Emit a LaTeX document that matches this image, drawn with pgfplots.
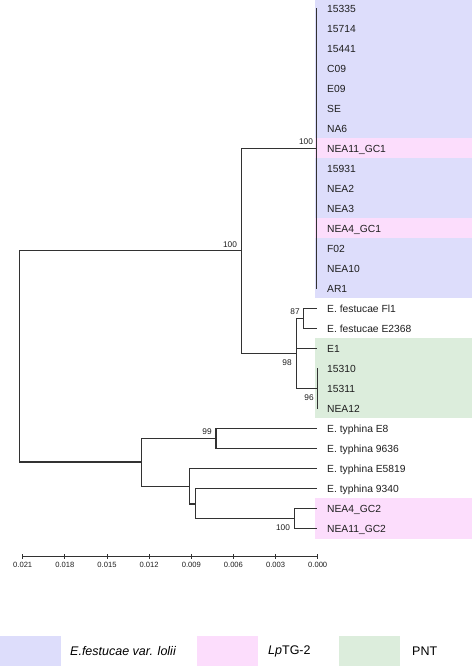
\documentclass[border=0pt]{standalone}
\usepackage{pgfplots}
\pgfplotsset{compat=1.18}
\usepackage{fontspec}
\setmainfont{Liberation Sans}
\definecolor{lolii}{RGB}{221,221,251}
\definecolor{lptg}{RGB}{252,221,252}
\definecolor{pnt}{RGB}{220,237,220}
\definecolor{treec}{RGB}{50,50,50}
\definecolor{txt}{RGB}{30,30,30}
\begin{document}
\begin{tikzpicture}
\begin{axis}[
  scale only axis, width=295pt, height=556pt,
  x dir=reverse, xmin=0, xmax=0.021, ymin=-27.375, ymax=0.425,
  clip=false, axis x line=bottom, axis y line=none,
  x axis line style={-}, every outer x axis line/.append style={-},
  axis line style={treec, line width=0.8pt},
  xtick={0,0.003,0.006,0.009,0.012,0.015,0.018,0.021},
  scaled x ticks=false,
  xtick align=center, major tick length=5pt,
  tick style={treec, line width=0.8pt},
  /pgf/number format/assume math mode=true,
  xticklabel style={/pgf/number format/fixed, /pgf/number format/precision=3,
    /pgf/number format/zerofill, font=\fontsize{7.6}{9}\selectfont, text=txt},
  tree/.style={treec, line width=1.1pt, line cap=rect, mark=none},
]
% background bands
\fill[lolii] (axis cs:0.00017,0.425) rectangle (axis cs:-0.01096,-14.5);
\fill[lptg] (axis cs:0.00017,-6.5) rectangle (axis cs:-0.01096,-7.5);
\fill[lptg] (axis cs:0.00017,-10.5) rectangle (axis cs:-0.01096,-11.5);
\fill[pnt] (axis cs:0.00017,-16.5) rectangle (axis cs:-0.01096,-20.5);
\fill[lptg] (axis cs:0.00017,-24.5) rectangle (axis cs:-0.01096,-26.5);
\path (axis cs:0.022617,0.425) rectangle (axis cs:-0.011056,-32.875);

% tree
\addplot[tree] coordinates {(0.0212,-12.1) (0.0212,-22.675)};
\addplot[tree] coordinates {(0.0212,-12.1) (0.00541,-12.1)};
\addplot[tree] coordinates {(0.00541,-7) (0.00541,-17.25)};
\addplot[tree] coordinates {(0.00541,-7) (0.0001,-7)};
\addplot[tree] coordinates {(0.0001,0) (0.0001,-14)};
\addplot[tree] coordinates {(0.00541,-17.25) (0.00154,-17.25)};
\addplot[tree] coordinates {(0.00154,-15.5) (0.00154,-19)};
\addplot[tree] coordinates {(0.00154,-15.5) (0.00103,-15.5)};
\addplot[tree] coordinates {(0.00103,-15) (0.00103,-16)};
\addplot[tree] coordinates {(0.00103,-15) (0.0001,-15)};
\addplot[tree] coordinates {(0.00103,-16) (0.0001,-16)};
\addplot[tree] coordinates {(0.00154,-17) (0.0001,-17)};
\addplot[tree] coordinates {(0.00154,-19) (0,-19)};
\addplot[tree] coordinates {(0,-18) (0,-20)};
\addplot[tree] coordinates {(0.0212,-22.675) (0.01253,-22.675)};
\addplot[tree] coordinates {(0.01253,-21.5) (0.01253,-23.91)};
\addplot[tree] coordinates {(0.01253,-21.5) (0.00724,-21.5)};
\addplot[tree] coordinates {(0.00724,-21) (0.00724,-22)};
\addplot[tree] coordinates {(0.00724,-21) (0.0001,-21)};
\addplot[tree] coordinates {(0.00724,-22) (0.0001,-22)};
\addplot[tree] coordinates {(0.01253,-23.91) (0.00911,-23.91)};
\addplot[tree] coordinates {(0.00911,-23) (0.00911,-24.775)};
\addplot[tree] coordinates {(0.00911,-23) (0.0001,-23)};
\addplot[tree] coordinates {(0.00911,-24.775) (0.00871,-24.775)};
\addplot[tree] coordinates {(0.00871,-24) (0.00871,-25.5)};
\addplot[tree] coordinates {(0.00871,-24) (0.0001,-24)};
\addplot[tree] coordinates {(0.00871,-25.5) (0.00167,-25.5)};
\addplot[tree] coordinates {(0.00167,-25) (0.00167,-26)};
\addplot[tree] coordinates {(0.00167,-25) (0.0001,-25)};
\addplot[tree] coordinates {(0.00167,-26) (0.0001,-26)};

% leaf labels
\begin{scope}[every node/.style={anchor=base west, inner sep=0pt, text=txt, font=\fontsize{10.3}{12}\selectfont}]
\node at (axis cs:-0.00066,-0.185) {15335};
\node at (axis cs:-0.00066,-1.185) {15714};
\node at (axis cs:-0.00066,-2.185) {15441};
\node at (axis cs:-0.00066,-3.185) {C09};
\node at (axis cs:-0.00066,-4.185) {E09};
\node at (axis cs:-0.00066,-5.185) {SE};
\node at (axis cs:-0.00066,-6.185) {NA6};
\node at (axis cs:-0.00066,-7.185) {NEA11\_GC1};
\node at (axis cs:-0.00066,-8.185) {15931};
\node at (axis cs:-0.00066,-9.185) {NEA2};
\node at (axis cs:-0.00066,-10.185) {NEA3};
\node at (axis cs:-0.00066,-11.185) {NEA4\_GC1};
\node at (axis cs:-0.00066,-12.185) {F02};
\node at (axis cs:-0.00066,-13.185) {NEA10};
\node at (axis cs:-0.00066,-14.185) {AR1};
\node at (axis cs:-0.00066,-15.185) {E. festucae Fl1};
\node at (axis cs:-0.00066,-16.185) {E. festucae E2368};
\node at (axis cs:-0.00066,-17.185) {E1};
\node at (axis cs:-0.00066,-18.185) {15310};
\node at (axis cs:-0.00066,-19.185) {15311};
\node at (axis cs:-0.00066,-20.185) {NEA12};
\node at (axis cs:-0.00066,-21.185) {E. typhina E8};
\node at (axis cs:-0.00066,-22.185) {E. typhina 9636};
\node at (axis cs:-0.00066,-23.185) {E. typhina E5819};
\node at (axis cs:-0.00066,-24.185) {E. typhina 9340};
\node at (axis cs:-0.00066,-25.185) {NEA4\_GC2};
\node at (axis cs:-0.00066,-26.185) {NEA11\_GC2};
\end{scope}

% bootstrap values
\begin{scope}[every node/.style={anchor=center, inner sep=0pt, text=txt, font=\fontsize{8.3}{10}\selectfont}]
\node at (axis cs:0.000833,-6.675) {100};
\node at (axis cs:0.006243,-11.825) {100};
\node at (axis cs:0.001616,-15.16) {87};
\node at (axis cs:0.002186,-17.725) {98};
\node at (axis cs:0.000619,-19.46) {96};
\node at (axis cs:0.007881,-21.175) {99};
\node at (axis cs:0.00247,-25.96) {100};
\end{scope}

% legend
\fill[lolii] (axis cs:0.022617,-31.375) rectangle (axis cs:0.018274,-32.875);
\fill[lptg] (axis cs:0.008571,-31.375) rectangle (axis cs:0.004271,-32.875);
\fill[pnt] (axis cs:-0.001516,-31.375) rectangle (axis cs:-0.005838,-32.875);
\begin{scope}[every node/.style={anchor=west, inner sep=0pt, text=black, font=\fontsize{12.5}{14}\selectfont}]
\node at (axis cs:0.017633,-32.125) {\textit{E.festucae var. lolii}};
\node at (axis cs:0.003538,-32.125) {\textit{Lp}TG-2};
\node at (axis cs:-0.006713,-32.125) {PNT};
\end{scope}
\end{axis}
\end{tikzpicture}
\end{document}
